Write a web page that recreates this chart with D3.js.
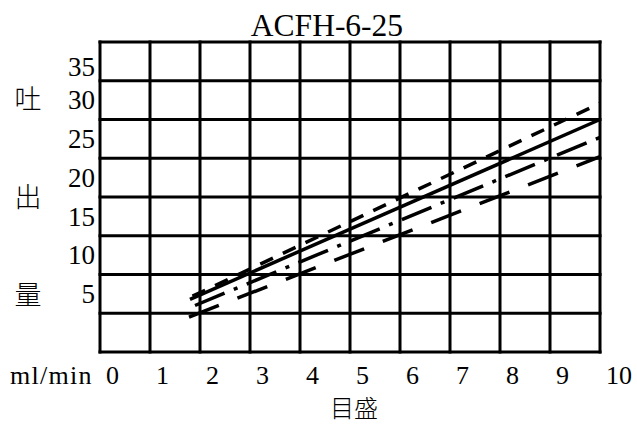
<!DOCTYPE html>
<html>
<head>
<meta charset="utf-8">
<script src="https://cdn.jsdelivr.net/npm/d3@7"></script>
<style>
  html, body { margin: 0; padding: 0; background: #fff; }
  svg { display: block; }
  text { fill: #000; }
</style>
</head>
<body>
<svg id="chart" width="637" height="425"></svg>
<script>
// ---- data ----
const title = "ACFH-6-25";
const xTicks = [0, 1, 2, 3, 4, 5, 6, 7, 8, 9, 10];
const yTicks = [5, 10, 15, 20, 25, 30, 35];
const yGrid = [0, 5, 10, 15, 20, 25, 30, 35, 40];
const yTitleChars = ["吐", "出", "量"];
const xTitle = "目盛";
const unitLabel = "ml/min";

// series (scale setting -> flow ml/min)
const solidX = [1.8, 10];
const solidY = [6.8, 30.0];
const shortDashX = [1.85, 10];
const shortDashY = [7.2, 32.1];
const dashDotX = [1.9, 10];
const dashDotY = [6.0, 27.7];
const longDashX = [1.78, 10];
const longDashY = [4.5, 25.2];

// ---- layout ----
const svg = d3.select("#chart");
const mLeft = 100, mRight = 600, mTop = 42, mBottom = 352;
const x = d3.scaleLinear().domain([0, 10]).range([mLeft, mRight]);
const y = d3.scaleLinear().domain([0, 40]).range([mBottom, mTop]);

const serif = "'Liberation Serif', 'DejaVu Serif', serif";
const cjk = "'Noto Sans CJK JP', 'Noto Sans CJK SC', sans-serif";

// grid
const g = svg.append("g");
g.selectAll("line.v").data(xTicks).enter().append("line")
  .attr("x1", d => x(d)).attr("x2", d => x(d))
  .attr("y1", mTop - 1.5).attr("y2", mBottom + 1.5)
  .attr("stroke", "#000").attr("stroke-width", 3);
g.selectAll("line.h").data(yGrid).enter().append("line")
  .attr("y1", d => y(d)).attr("y2", d => y(d))
  .attr("x1", mLeft - 1.5).attr("x2", mRight + 1.5)
  .attr("stroke", "#000").attr("stroke-width", 3);

// series lines
const series = [
  { xs: solidX, ys: solidY, dash: null },
  { xs: shortDashX, ys: shortDashY, dash: "14,11" },
  { xs: dashDotX, ys: dashDotY, dash: "32,10,4,10" },
  { xs: longDashX, ys: longDashY, dash: "32,20" }
];
const line = d3.line().x(d => x(d[0])).y(d => y(d[1]));
series.forEach(s => {
  const pts = s.xs.map((v, i) => [v, s.ys[i]]);
  const p = svg.append("path").datum(pts)
    .attr("d", line)
    .attr("fill", "none").attr("stroke", "#000").attr("stroke-width", 3.5);
  if (s.dash) p.attr("stroke-dasharray", s.dash);
});

// title
svg.append("text").attr("x", 327).attr("y", 36)
  .attr("text-anchor", "middle")
  .style("font-family", serif).style("font-size", "31.5px")
  .text(title);

// y tick labels
svg.selectAll("text.yt").data(yTicks).enter().append("text")
  .attr("x", 95)
  .attr("y", d => y(d) - (d === 35 ? 14 : 19.5))
  .attr("dy", "0.35em")
  .attr("text-anchor", "end")
  .style("font-family", serif).style("font-size", "27px")
  .text(d => d);

// x tick labels
svg.selectAll("text.xt").data(xTicks).enter().append("text")
  .attr("x", d => x(d) + 6)
  .attr("y", 384)
  .attr("text-anchor", "start")
  .style("font-family", serif).style("font-size", "26px")
  .text(d => d);

// unit label
svg.append("text").attr("x", 10).attr("y", 384)
  .style("font-family", serif).style("font-size", "26px")
  .style("letter-spacing", "1.3px")
  .text(unitLabel);

// y title (vertical characters)
const yTitlePos = [100, 198, 296];
svg.selectAll("text.ytitle").data(yTitleChars).enter().append("text")
  .attr("x", 28)
  .attr("y", (d, i) => yTitlePos[i])
  .attr("dy", "0.35em")
  .attr("text-anchor", "middle")
  .style("font-family", cjk).style("font-size", "27px")
  .style("font-weight", 300)
  .text(d => d);

// x title
svg.append("text").attr("x", 354).attr("y", 409)
  .attr("dy", "0.35em")
  .attr("text-anchor", "middle")
  .style("font-family", cjk).style("font-size", "24px")
  .style("font-weight", 300)
  .text(xTitle);
</script>
</body>
</html>
